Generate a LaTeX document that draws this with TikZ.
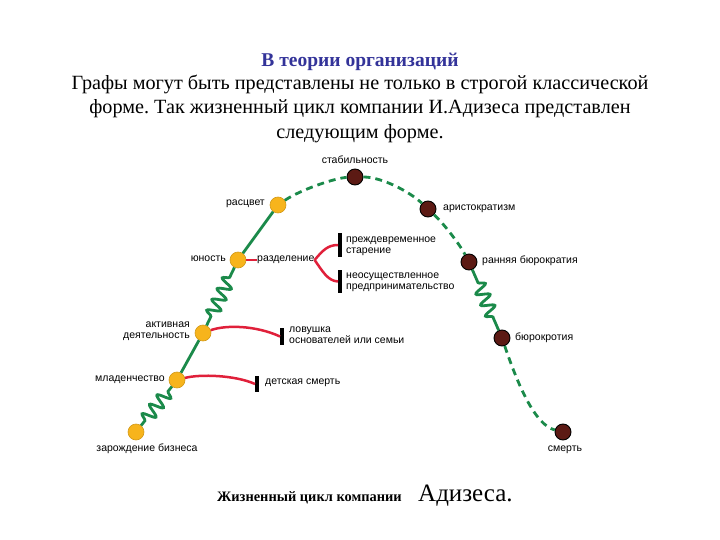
\documentclass[tikz,border=0pt]{standalone}
\usepackage{fontspec}
\setmainfont{Liberation Serif}
\newfontfamily\labfont{Liberation Sans}
\usetikzlibrary{decorations.pathmorphing}
\definecolor{grn}{HTML}{1B8A4A}
\definecolor{org}{HTML}{F7B41C}
\definecolor{brn}{HTML}{5C1A14}
\definecolor{rd}{HTML}{E0203A}
\definecolor{ttl}{HTML}{333399}
\frenchspacing
\begin{document}
\begin{tikzpicture}[x=1pt,y=-1pt,
  lbl/.style={font=\labfont\fontsize{10.5}{11}\selectfont, inner sep=0pt, text=black},
  yel/.style={circle, fill=org, draw=org!85!black, line width=0.6pt, minimum size=16pt, inner sep=0pt},
  drk/.style={circle, fill=brn, draw=black, line width=0.9pt, minimum size=16pt, inner sep=0pt},
  life/.style={draw=grn, line width=2.8pt},
  spring/.style={life, decorate, decoration={snake, segment length=12pt, amplitude=6.5pt, pre length=#1, post length=#1}},
  dsh/.style={life, dash pattern=on 7pt off 5pt},
  redl/.style={draw=rd, line width=2.5pt},
  barn/.style={fill=black, inner sep=0pt, minimum width=3.5pt}
]
\useasboundingbox (0,0) rectangle (720,540);
% title
\node[font=\bfseries\fontsize{19.5}{22}\selectfont, text=ttl, inner sep=0pt] (t0) at (360,62) {В теории организаций};
\node[font=\fontsize{20.2}{24.5}\selectfont, align=center, inner sep=0pt, anchor=north] (t1) at (360,74.5)
  {Графы могут быть представлены не только в строгой классической\\
   форме. Так жизненный цикл компании И.Адизеса представлен\\
   следующим форме.};
% stage nodes
\node[yel] (zar) at (136,432) {};
\node[yel] (mlad) at (177,380) {};
\node[yel] (akt) at (203,333) {};
\node[yel] (yun) at (238,260) {};
\node[yel] (rasc) at (278,205) {};
\node[drk] (stab) at (355,177) {};
\node[drk] (arist) at (428,209) {};
\node[drk] (rann) at (469,262) {};
\node[drk] (bur) at (502,338) {};
\node[drk] (smert) at (563,432) {};
% bars
\node[barn, minimum height=24pt] (b1) at (340,245) {};
\node[barn, minimum height=23pt] (b2) at (340,281.5) {};
\node[barn, minimum height=17pt] (b3) at (282,336.5) {};
\node[barn, minimum height=16pt] (b4) at (257,384) {};
% labels
\node[lbl] (lstab) at (355,160) {стабильность};
\node[lbl, anchor=west] (larist) at (443,209) {аристократизм};
\node[lbl, anchor=west] (lrann) at (482,261) {ранняя бюрократия};
\node[lbl, anchor=west] (lbur) at (515,338) {бюрокротия};
\node[lbl] (lsmert) at (565,450) {смерть};
\node[lbl, anchor=east] (lrasc) at (265,204) {расцвет};
\node[lbl, anchor=east] (lyun) at (226,259) {юность};
\node[lbl, anchor=west] (razd) at (257,260) {разделение};
\node[lbl, anchor=west, align=left] (lpr) at (346,246) {преждевременное\\старение};
\node[lbl, anchor=west, align=left] (lneo) at (346,282) {неосуществленное\\предпринимательство};
\node[lbl, anchor=east, align=right] (lakt) at (190,331) {активная\\деятельность};
\node[lbl, anchor=west, align=left] (llov) at (289,335) {ловушка\\основателей или семьи};
\node[lbl, anchor=west] (ldet) at (265,383) {детская смерть};
\node[lbl, anchor=east] (lmlad) at (165,380) {младенчество};
\node[lbl] (lzar) at (147,449) {зарождение бизнеса};
% life curve
\draw[spring=6pt] (zar) -- (mlad);
\draw[life] (mlad) -- (akt);
\draw[spring=10pt] (akt) -- (yun);
\draw[life] (yun) -- (rasc);
\draw[dsh] (rasc) .. controls (300,190) and (335,178) .. (stab)
  .. controls (382,177) and (410,192) .. (arist)
  .. controls (445,225) and (460,245) .. (rann);
\draw[spring=14pt] (rann) -- (bur);
\draw[dsh] (bur) .. controls (518,385) and (535,425) .. (smert);
% red branches
\draw[redl] (yun) -- (razd);
\draw[redl] (razd.east) .. controls (323,250) and (328,245) .. (b1.west);
\draw[redl] (razd.east) .. controls (323,272) and (328,281) .. (b2.west);
\draw[redl] (akt) .. controls (225,325) and (255,325) .. (b3.west);
\draw[redl] (mlad) .. controls (200,374) and (235,375) .. (b4.west);
% caption
\node[font=\bfseries\fontsize{14.4}{16}\selectfont, anchor=base west, inner sep=0pt] (c1) at (217,501) {Жизненный цикл компании};
\node[font=\fontsize{25}{27}\selectfont, anchor=base west, inner sep=0pt] (c2) at (418,501) {Адизеса.};
\end{tikzpicture}
\end{document}
